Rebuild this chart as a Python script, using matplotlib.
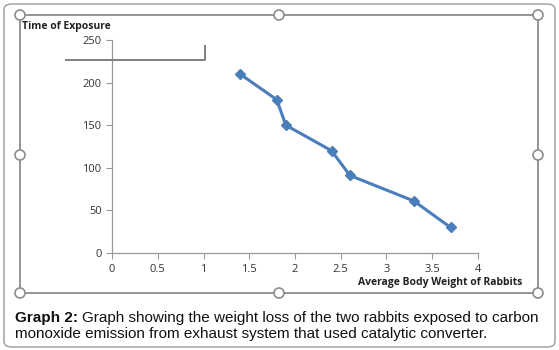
import matplotlib
matplotlib.use("Agg")
import matplotlib.pyplot as plt
from matplotlib.patches import FancyBboxPatch, Ellipse, Rectangle
from matplotlib.lines import Line2D

weight = [1.4, 1.8, 1.9, 2.4, 2.6, 3.3, 3.7]
exposure = [210, 180, 150, 120, 91, 61, 30]
xticks = [0, 0.5, 1, 1.5, 2, 2.5, 3, 3.5, 4]
xticklabels = ["0", "0.5", "1", "1.5", "2", "2.5", "3", "3.5", "4"]
yticks = [0, 50, 100, 150, 200, 250]

W, H = 559, 350
fig = plt.figure(figsize=(W / 100, H / 100), dpi=100)
fig.patch.set_facecolor("white")

def fx(px):
    return px / W

def fy(py):
    return 1 - py / H

# outer rounded box
outer = FancyBboxPatch((fx(4), fy(347)), fx(551), 343 / H,
                       boxstyle="round,pad=0,rounding_size=0.015",
                       transform=fig.transFigure, facecolor="white",
                       edgecolor="#9a9a9a", linewidth=1.0, zorder=-10)
fig.patches.append(outer)

# inner chart frame
frame = Rectangle((fx(20), fy(293)), fx(518), 278 / H, transform=fig.transFigure,
                  facecolor="none", edgecolor="#8c8c8c", linewidth=1.3, zorder=-5)
fig.patches.append(frame)

ax = fig.add_axes([fx(112), fy(253), fx(366), 213 / H])
ax.set_zorder(2)
ax.set_facecolor("none")
ax.plot(weight, exposure, color="#4a7ebb", linewidth=2.2, marker="D",
        markersize=5, clip_on=False)
ax.set_xlim(0, 4)
ax.set_ylim(0, 250)
ax.set_xticks(xticks)
ax.set_xticklabels(xticklabels)
ax.set_yticks(yticks)
for s in ["top", "right"]:
    ax.spines[s].set_visible(False)
for s in ["left", "bottom"]:
    ax.spines[s].set_color("#999999")
    ax.spines[s].set_linewidth(0.9)
ax.tick_params(axis="both", direction="out", length=4, width=0.8, color="#999999",
               labelsize=8, labelcolor="#333333")
ax.tick_params(axis="x", pad=4)
for lbl in ax.get_xticklabels() + ax.get_yticklabels():
    lbl.set_family("Open Sans")

fig.text(fx(22), fy(27), "Time of Exposure", fontsize=7.5, fontweight="bold",
         family="Open Sans", ha="left", va="center", color="#222222")
fig.text(fx(522), fy(282), "Average Body Weight of Rabbits", fontsize=7.5,
         fontweight="bold", family="Open Sans", ha="right", va="center",
         color="#222222")

# stray line shape
fig.lines.append(Line2D([fx(66), fx(205), fx(205)], [fy(60), fy(60), fy(46)],
                        transform=fig.transFigure, color="#7f7f7f", linewidth=1.4))

# handles
for (px, py) in [(20, 15), (279, 15), (538, 15), (20, 155), (538, 155),
                 (20, 293), (279, 293), (538, 293)]:
    e = Ellipse((fx(px), fy(py)), 10 / W, 10 / H, transform=fig.transFigure,
                facecolor="white", edgecolor="#8c8c8c", linewidth=1.2, zorder=3)
    fig.patches.append(e)

# caption
t1 = fig.text(fx(15), fy(318), "Graph 2:", fontsize=11, fontweight="bold",
              family="Liberation Sans", ha="left", va="center", color="#111111")
fig.canvas.draw()
bb = t1.get_window_extent(renderer=fig.canvas.get_renderer())
fig.text(bb.x1 / W + fx(4), fy(318),
         "Graph showing the weight loss of the two rabbits exposed to carbon",
         fontsize=11, family="Liberation Sans", ha="left", va="center",
         color="#111111")
fig.text(fx(15), fy(334),
         "monoxide emission from exhaust system that used catalytic converter.",
         fontsize=11, family="Liberation Sans", ha="left", va="center",
         color="#111111")

fig.savefig("out.png", dpi=100)
